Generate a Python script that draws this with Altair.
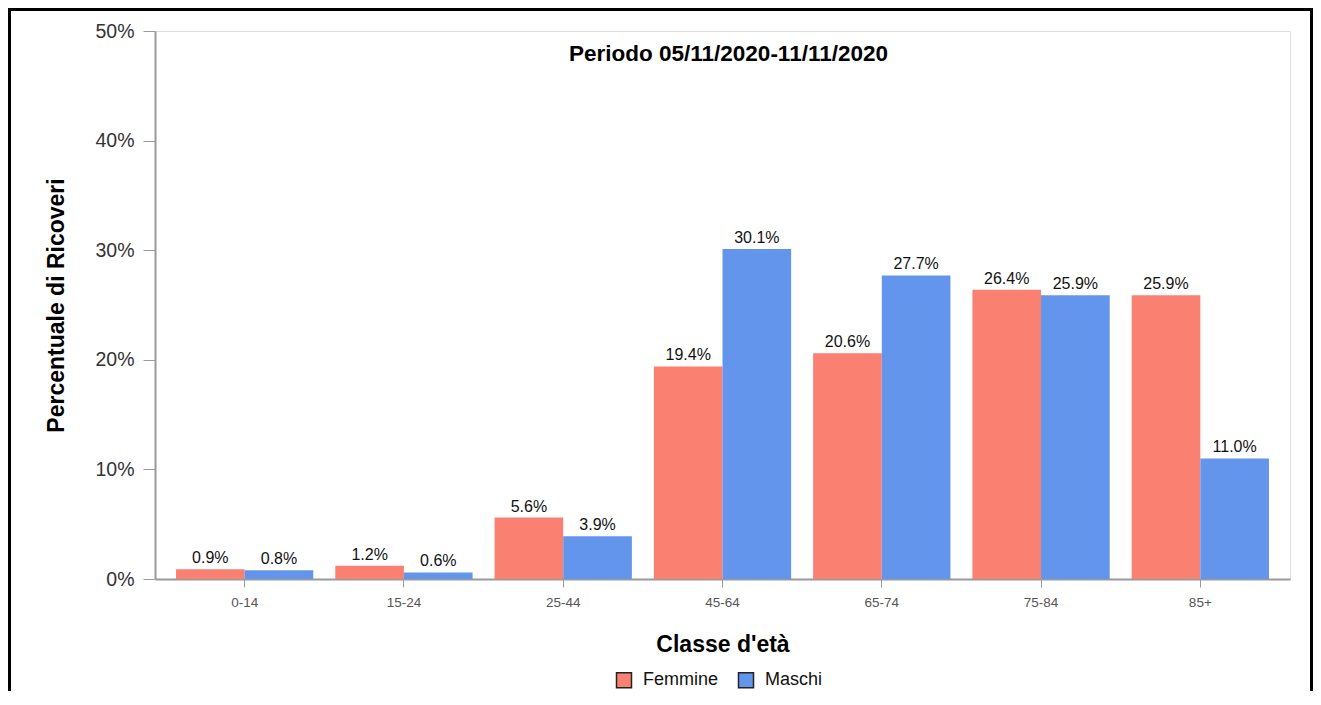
import altair as alt
import pandas as pd

AGE_GROUPS = ["0-14", "15-24", "25-44", "45-64", "65-74", "75-84", "85+"]
SEXES = ["Femmine", "Maschi"]
FEMMINE = [0.9, 1.2, 5.6, 19.4, 20.6, 26.4, 25.9]
MASCHI = [0.8, 0.6, 3.9, 30.1, 27.7, 25.9, 11.0]
COLORS = ["#FA8072", "#6495ED"]
Y_TICKS = [0, 10, 20, 30, 40, 50]
TITLE = "Periodo 05/11/2020-11/11/2020"

FONT = "Liberation Sans, Arial, Helvetica, sans-serif"
AXIS_GREY = "#9a9a9a"


def build_frame():
    """Long table: one row per age group and sex."""
    rows = []
    for sex, values in zip(SEXES, [FEMMINE, MASCHI]):
        for age, v in zip(AGE_GROUPS, values):
            rows.append({"Classe": age, "Sesso": sex, "Percentuale": v})
    return pd.DataFrame(rows)


def plot_ricoveri():
    df = build_frame()

    base = alt.Chart(df).encode(
        x=alt.X(
            "Classe:N",
            sort=AGE_GROUPS,
            scale=alt.Scale(paddingInner=0.138, paddingOuter=0.132),
            axis=alt.Axis(
                title="Classe d'età",
                labelAngle=0,
                labelFont=FONT,
                labelFontSize=13.5,
                labelColor="#555555",
                labelPadding=8,
                tickSize=8,
                tickColor=AXIS_GREY,
                domainColor=AXIS_GREY,
                domainWidth=2,
                titleFont=FONT,
                titleFontSize=23,
                titleFontWeight="bold",
                titleColor="#000000",
                titleBaseline="alphabetic",
                titleY=72,
            ),
        ),
        xOffset=alt.XOffset("Sesso:N", sort=SEXES),
        y=alt.Y(
            "Percentuale:Q",
            scale=alt.Scale(domain=[0, 50], nice=False),
            axis=alt.Axis(
                title="Percentuale di Ricoveri",
                values=Y_TICKS,
                labelExpr="datum.value + '%'",
                grid=False,
                labelFont=FONT,
                labelFontSize=19.5,
                labelColor="#333333",
                labelPadding=9,
                tickSize=12,
                tickColor=AXIS_GREY,
                domainColor=AXIS_GREY,
                domainWidth=2,
                titleFont=FONT,
                titleFontSize=23,
                titleFontWeight="bold",
                titleColor="#000000",
                titleBaseline="middle",
                titleX=-99,
            ),
        ),
    )

    bars = base.mark_bar().encode(
        color=alt.Color(
            "Sesso:N",
            sort=SEXES,
            scale=alt.Scale(domain=SEXES, range=COLORS),
            legend=alt.Legend(
                title=None,
                orient="none",
                legendX=460,
                legendY=640,
                direction="horizontal",
                symbolType="square",
                symbolSize=225,
                symbolStrokeColor="#222222",
                symbolStrokeWidth=1.5,
                labelFont=FONT,
                labelFontSize=18,
                labelColor="#111111",
                labelOffset=10,
                columnPadding=16,
            ),
        )
    )

    labels = (
        base.mark_text(
            dy=-6, baseline="alphabetic", font=FONT, fontSize=16, color="#111111"
        )
        .encode(text="etichetta:N")
        .transform_calculate(etichetta="format(datum.Percentuale, '.1f') + '%'")
    )

    # black frame round the whole picture
    frame = (
        alt.Chart(pd.DataFrame({"k": [0]}))
        .mark_rect(filled=False, stroke="black", strokeWidth=3)
        .encode(
            x=alt.value(-145.5),
            x2=alt.value(1156.5),
            y=alt.value(-21.5),
            y2=alt.value(720),
        )
    )

    chart = (
        alt.layer(bars, labels, frame)
        .properties(
            width=1135,
            height=548,
            autosize=alt.AutoSizeParams(type="none"),
            padding={"left": 147, "top": 23, "right": 23, "bottom": 112},
            title=alt.TitleParams(
                TITLE,
                font=FONT,
                fontSize=22.5,
                fontWeight="bold",
                color="#000000",
                anchor="middle",
                frame="group",
                offset=-57,
                dx=6,
            ),
        )
        .configure_view(strokeWidth=0)
        .configure(background="white")
    )
    return chart


chart = plot_ricoveri()
chart.save("out.html", embed_options={"renderer": "svg", "actions": False})
